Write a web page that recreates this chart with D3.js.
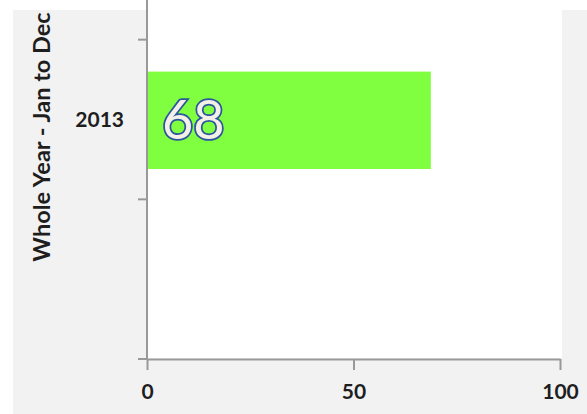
<!DOCTYPE html>
<html lang="en">
<head>
<meta charset="utf-8">
<title>Whole Year</title>
<script src="https://d3js.org/d3.v7.min.js"></script>
<style>
  body { margin: 0; background: #fff; }
  text { font-family: Lato, "Open Sans", sans-serif; }
</style>
</head>
<body>
<div id="chart"></div>
<script>

// data
var categories = ["before", "2013", "after"];
var catLabels = ["", "2013", ""];
var barCats = ["2013"];
var barValues = [68];
var xTicks = [0, 50, 100];
var axisTitle = "Whole Year - Jan to Dec";

var width = 587,
    height = 414;

var svg = d3.select("#chart")
  .append("svg")
  .attr("width", width)
  .attr("height", height);

// grey chart area + white plot area
svg.append("rect")
  .attr("x", 13).attr("y", 10)
  .attr("width", width - 13).attr("height", height - 10)
  .attr("fill", "#f2f2f2");

var x = d3.scaleLinear()
  .domain([0, 100])
  .range([147, 560]);

var y = d3.scaleBand()
  .domain(categories)
  .range([-120, 359]);

svg.append("rect")
  .attr("x", x(0) + 1).attr("y", 0)
  .attr("width", x(100) - x(0) + 1).attr("height", y.range()[1] - 1)
  .attr("fill", "#fff");

var axisColor = "#999";

// bars
svg.append("g")
  .selectAll("rect")
  .data(barValues)
  .enter()
  .append("rect")
    .attr("x", x(0) + 1)
    .attr("y", function(d, i) { return y(barCats[i]) + y.bandwidth() * 0.2; })
    .attr("width", function(d) { return x(d) - x(0) + 2; })
    .attr("height", y.bandwidth() * 0.61)
    .attr("fill", "#80ff40");

// value labels
svg.append("g")
  .selectAll("text")
  .data(barValues)
  .enter()
  .append("text")
    .attr("x", x(0) + 15)
    .attr("y", function(d, i) { return y(barCats[i]) + y.bandwidth() / 2; })
    .attr("dy", "0.36em")
    .attr("font-size", "54px")
    .attr("fill", "#f4f0e8")
    .attr("stroke", "#2b559e")
    .attr("stroke-width", 3.5)
    .attr("paint-order", "stroke")
    .text(function(d) { return d; });

// y axis (category ticks sit between categories)
var yAxis = svg.append("g");
yAxis.append("line")
  .attr("x1", x(0)).attr("x2", x(0))
  .attr("y1", 0).attr("y2", y.range()[1])
  .attr("stroke", axisColor).attr("stroke-width", 2);

var bounds = categories.map(function(c) { return y(c); }).concat([y.range()[1]]);
yAxis.selectAll(".tick")
  .data(bounds)
  .enter()
  .append("line")
    .attr("x1", x(0) - 9).attr("x2", x(0))
    .attr("y1", function(d) { return d; })
    .attr("y2", function(d) { return d; })
    .attr("stroke", axisColor).attr("stroke-width", 2);

yAxis.selectAll(".lbl")
  .data(categories)
  .enter()
  .append("text")
    .attr("x", x(0) - 23)
    .attr("y", function(d) { return y(d) + y.bandwidth() / 2; })
    .attr("dy", "0.35em")
    .attr("text-anchor", "end")
    .attr("font-size", "21px")
    .attr("font-weight", "bold")
    .attr("fill", "#1e1e1e")
    .text(function(d, i) { return catLabels[i]; });

// x axis
var xAxis = svg.append("g")
  .attr("transform", "translate(0," + y.range()[1] + ")")
  .call(d3.axisBottom(x).tickValues(xTicks).tickSize(11).tickSizeOuter(0).tickPadding(14));

xAxis.select(".domain").attr("stroke", axisColor).attr("stroke-width", 2);
xAxis.selectAll(".tick line").attr("stroke", axisColor).attr("stroke-width", 2);
xAxis.selectAll(".tick text")
  .attr("font-family", "Lato, sans-serif")
  .attr("font-size", "21px")
  .attr("font-weight", "bold")
  .attr("fill", "#1e1e1e");

// axis title
svg.append("text")
  .attr("transform", "translate(42,137) rotate(-90)")
  .attr("dy", "0.35em")
  .attr("text-anchor", "middle")
  .attr("font-size", "23.5px")
  .attr("font-weight", "bold")
  .attr("fill", "#1e1e1e")
  .text(axisTitle);

</script>
</body>
</html>
